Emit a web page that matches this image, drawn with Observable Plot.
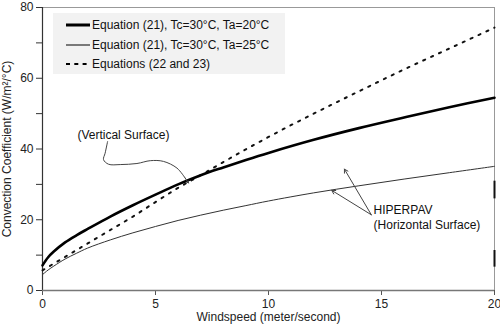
<!DOCTYPE html>
<html>
<head>
<meta charset="utf-8">
<script src="https://cdn.jsdelivr.net/npm/d3@7"></script>
<script src="https://cdn.jsdelivr.net/npm/@observablehq/plot@0.6"></script>
<style>
  body { margin: 0; background: white; font-family: "Liberation Sans", Arial, sans-serif; }
  #wrap { position: relative; width: 500px; height: 334px; }
  #legend { position: absolute; left: 53px; top: 13px; width: 232px; height: 61px; background: #f2f2f2; }
  .row { position: absolute; left: 0; height: 16px; display: flex; align-items: center; font-size: 12px; color: #111; white-space: nowrap; }
  .row svg { margin-left: 13px; margin-right: 2px; }
</style>
</head>
<body>
<div id="wrap"><div id="legend"></div></div>
<script>
// ---- data ----
const windspeed = [0, 0.25, 0.5, 1, 1.5, 2, 3, 4, 5, 6, 7, 8, 9, 10, 12, 14, 16, 18, 20];
const eq21Ta20 = [7.1, 9.4, 11.0, 13.6, 15.6, 17.4, 20.9, 24.1, 27.1, 30.0, 32.6, 34.8, 36.9, 38.9, 42.6, 45.9, 48.9, 51.8, 54.5];
const eq21Ta25 = [4.5, 5.8, 6.9, 8.9, 10.5, 12.0, 14.3, 16.3, 18.1, 19.8, 21.3, 22.7, 24.0, 25.3, 27.6, 29.6, 31.5, 33.3, 35.1];
const eq22and23 = [5.7, 6.65, 7.6, 9.5, 11.4, 13.3, 17.1, 20.9, 25.0, 29.0, 32.6, 36.3, 39.9, 43.4, 50.0, 56.3, 62.5, 68.4, 74.3];

const seriesNames = [
  "Equation (21), Tc=30°C, Ta=20°C",
  "Equation (21), Tc=30°C, Ta=25°C",
  "Equations (22 and 23)"
];

const xTicks = [0, 5, 10, 15, 20];
const yTicks = [0, 10, 20, 30, 40, 50, 60, 70, 80];
const yTickLabels = [0, 20, 40, 60, 80];

const xLabel = "Windspeed (meter/second)";
const yLabel = "Convection Coefficient (W/m²/°C)";

// annotation: (Vertical Surface)
const vertText = "(Vertical Surface)";
const vertTextPos = [3.58, 44.0];
const vertPathX = [2.88, 2.77, 2.70, 2.92, 3.44, 4.18, 4.77, 5.35, 5.95, 6.31];
const vertPathY = [42.1, 38.8, 37.0, 35.7, 35.6, 35.9, 36.7, 36.5, 34.6, 31.8];
const vertTip = [6.46, 30.4];

// annotation: HIPERPAV
const hiperLines = ["HIPERPAV", "(Horizontal Surface)"];
const hiperTextX = 14.65;
const hiperTextY = [22.8, 18.6];
const hiperTail = [14.55, 21.4];
const hiperTipsX = [13.36, 12.8];
const hiperTipsY = [34.3, 28.3];

// scan marks on the right border
const edgeMarkY1 = [30.9, 11.3];
const edgeMarkY2 = [25.9, 6.6];

// ---- build ----
const rows = windspeed.map((w, i) => ({w, a: eq21Ta20[i], b: eq21Ta25[i], c: eq22and23[i]}));
const vertPath = vertPathX.map((x, i) => ({x, y: vertPathY[i]}));
const hiperArrows = hiperTipsX.map((x, i) => ({x1: hiperTail[0], y1: hiperTail[1], x2: x, y2: hiperTipsY[i]}));
const edgeMarks = edgeMarkY1.map((y1, i) => ({y1, y2: edgeMarkY2[i]}));

const chart = Plot.plot({
  width: 500,
  height: 334,
  marginLeft: 42,
  marginRight: 6,
  marginTop: 7,
  marginBottom: 44,
  x: {domain: [0, 20]},
  y: {domain: [0, 80]},
  style: {fontFamily: "'Liberation Sans', Arial, sans-serif", fontSize: "12px", color: "#222", background: "white", overflow: "visible"},
  marks: [
    Plot.frame({stroke: "#999", strokeWidth: 1}),
    Plot.axisY({ticks: yTicks, tickFormat: d => yTickLabels.includes(d) ? String(d) : "", tickSize: 6, tickPadding: 3, label: null, stroke: "#333"}),
    Plot.axisX({ticks: xTicks, tickSize: 5, tickPadding: 4, label: null, stroke: "#555"}),
    Plot.ruleX([0], {stroke: "#333", strokeWidth: 1.2}),
    Plot.ruleY([0], {stroke: "#777", strokeWidth: 1.6}),
    Plot.ruleX(edgeMarks, {x: () => 20, y1: "y1", y2: "y2", stroke: "#111", strokeWidth: 2}),
    Plot.line(rows, {x: "w", y: "b", curve: "catmull-rom", stroke: "#333", strokeWidth: 1}),
    Plot.line(rows, {x: "w", y: "c", curve: "monotone-x", stroke: "#111", strokeWidth: 2, strokeDasharray: "2.2,6.5"}),
    Plot.line(rows, {x: "w", y: "a", curve: "catmull-rom", stroke: "#000", strokeWidth: 2.6}),
    // Vertical surface annotation
    Plot.text([vertText], {x: () => vertTextPos[0], y: () => vertTextPos[1], text: d => d, fill: "#111", fontSize: 12}),
    Plot.line(vertPath, {x: "x", y: "y", curve: "catmull-rom", stroke: "#444", strokeWidth: 1}),
    Plot.arrow([0], {x1: () => vertPathX[vertPathX.length - 1], y1: () => vertPathY[vertPathY.length - 1], x2: () => vertTip[0], y2: () => vertTip[1], stroke: "#444", strokeWidth: 1, headLength: 6}),
    // HIPERPAV annotation
    Plot.arrow(hiperArrows, {x1: "x1", y1: "y1", x2: "x2", y2: "y2", stroke: "#444", strokeWidth: 1, headLength: 6}),
    Plot.text(hiperLines, {x: () => hiperTextX, y: (d, i) => hiperTextY[i], text: d => d, textAnchor: "start", fill: "#111", fontSize: 12}),
    // axis titles
    Plot.text([yLabel], {frameAnchor: "left", dx: -35, rotate: -90, textAnchor: "middle", text: d => d, fill: "#222", fontSize: 12}),
    Plot.text([xLabel], {frameAnchor: "bottom", dy: 30, textAnchor: "middle", text: d => d, fill: "#222", fontSize: 12})
  ]
});

const wrap = document.getElementById("wrap");
wrap.insertBefore(chart, wrap.firstChild);

// legend
const legend = document.getElementById("legend");
const legendStyles = [
  {w: 3, dash: null},
  {w: 1, dash: null},
  {w: 2, dash: "4,4.3"}
];
const rowTops = [4, 23.5, 43];
seriesNames.forEach((name, i) => {
  const r = document.createElement("div");
  r.className = "row";
  r.style.top = rowTops[i] + "px";
  const s = legendStyles[i];
  r.innerHTML = `<svg width="24" height="10"><line x1="0" x2="24" y1="5" y2="5" stroke="#000" stroke-width="${s.w}" ${s.dash ? `stroke-dasharray="${s.dash}"` : ""}/></svg><span>${name}</span>`;
  legend.appendChild(r);
});
</script>
</body>
</html>
